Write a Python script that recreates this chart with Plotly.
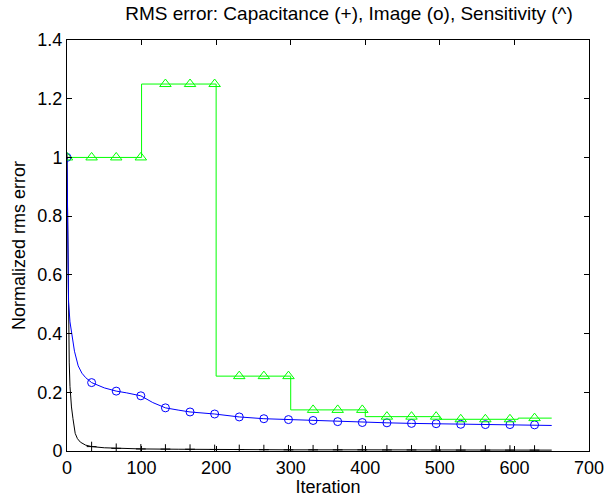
import plotly.graph_objects as go

# Marker iterations (every 33 iterations)
marker_iter = [0, 33, 66, 99, 132, 165, 198, 231, 264, 297, 330, 363, 396, 429, 462, 495, 528, 561, 594, 627]

# Capacitance (black, +)
cap_iter = [0, 1, 2, 3, 4, 5, 6, 8, 11, 14, 18, 25, 33, 50, 66, 100, 150, 200, 300, 400, 500, 650]
cap_err = [1.0, 0.7, 0.45, 0.3, 0.22, 0.18, 0.15, 0.11, 0.06, 0.042, 0.03, 0.02, 0.015, 0.011, 0.009,
           0.007, 0.006, 0.005, 0.004, 0.004, 0.003, 0.003]
cap_marker_err = [1.0, 0.015, 0.009, 0.007, 0.0065, 0.006, 0.005, 0.005, 0.0045, 0.004, 0.004, 0.004,
                  0.004, 0.0035, 0.0035, 0.003, 0.003, 0.003, 0.003, 0.003]

# Image (blue, o)
img_iter = [0, 1, 2, 4, 6, 10, 15, 20, 25, 33, 50, 66, 80, 99, 115, 132, 150, 165, 198, 231, 264, 297,
            330, 363, 396, 429, 462, 495, 528, 561, 594, 627, 650]
img_err = [1.0, 0.7, 0.51, 0.44, 0.4, 0.34, 0.29, 0.265, 0.25, 0.233, 0.215, 0.204, 0.198, 0.188, 0.165,
           0.147, 0.139, 0.133, 0.126, 0.116, 0.11, 0.107, 0.104, 0.1, 0.097, 0.096, 0.094, 0.093, 0.091,
           0.09, 0.09, 0.089, 0.087]
img_marker_err = [1.0, 0.233, 0.204, 0.188, 0.147, 0.133, 0.126, 0.116, 0.11, 0.107, 0.104, 0.1, 0.097,
                  0.096, 0.094, 0.093, 0.091, 0.09, 0.09, 0.089]

# Sensitivity (green, ^) step function
sens_iter = [0, 100, 200, 300, 400, 500, 605, 650]
sens_err = [1.0, 1.25, 0.255, 0.14, 0.117, 0.108, 0.112, 0.112]
sens_marker_err = [1.0, 1.0, 1.0, 1.0, 1.25, 1.25, 1.25, 0.255, 0.255, 0.255, 0.14, 0.14, 0.14,
                   0.117, 0.117, 0.117, 0.108, 0.108, 0.108, 0.112]

x_ticks = [0, 100, 200, 300, 400, 500, 600, 700]
y_ticks = [0, 0.2, 0.4, 0.6, 0.8, 1.0, 1.2, 1.4]
y_tick_labels = ["0", "0.2", "0.4", "0.6", "0.8", "1", "1.2", "1.4"]

GREEN = "#00ff00"
BLUE = "#0000ff"
BLACK = "#000000"
FONT = "Liberation Sans, Arial, sans-serif"

fig = go.Figure()
fig.add_trace(go.Scatter(x=cap_iter, y=cap_err, mode="lines", line=dict(color=BLACK, width=1)))
fig.add_trace(go.Scatter(x=marker_iter, y=cap_marker_err, mode="markers",
                         marker=dict(symbol="cross-thin", size=7, line=dict(color=BLACK, width=1))))
fig.add_trace(go.Scatter(x=img_iter, y=img_err, mode="lines", line=dict(color=BLUE, width=1)))
fig.add_trace(go.Scatter(x=marker_iter, y=img_marker_err, mode="markers",
                         marker=dict(symbol="circle-open", size=8, color=BLUE, line=dict(width=1))))
fig.add_trace(go.Scatter(x=sens_iter, y=sens_err, mode="lines", line=dict(color=GREEN, width=1),
                         line_shape="hv"))
fig.add_trace(go.Scatter(x=marker_iter, y=sens_marker_err, mode="markers",
                         marker=dict(symbol="triangle-up-open", size=10, color=GREEN, line=dict(width=1))))

axis_common = dict(showline=True, linecolor="black", linewidth=1, mirror="ticks", ticks="inside",
                   ticklen=5, tickcolor="black", showgrid=False, zeroline=False, automargin=False,
                   tickfont=dict(family=FONT, size=18, color="black"))

fig.update_layout(
    width=606, height=497,
    margin=dict(l=67, r=17, t=40, b=46),
    paper_bgcolor="white", plot_bgcolor="white",
    showlegend=False,
    title=dict(text="RMS error: Capacitance (+), Image (o), Sensitivity (^)",
               x=349 / 606, xanchor="center", y=1 - 13 / 497, yanchor="middle",
               font=dict(family=FONT, size=19, color="black")),
    xaxis=dict(range=[0, 700], tickvals=x_ticks,
               title=dict(text="Iteration", standoff=4, font=dict(family=FONT, size=18, color="black")),
               **axis_common),
    yaxis=dict(range=[0, 1.4], tickvals=y_ticks, ticktext=y_tick_labels,
               title=dict(text="Normalized rms error", standoff=7,
                          font=dict(family=FONT, size=18, color="black")),
               **axis_common),
)

fig.write_html("out.html", config={"displayModeBar": False},
               post_script="document.body.style.margin='0';")
